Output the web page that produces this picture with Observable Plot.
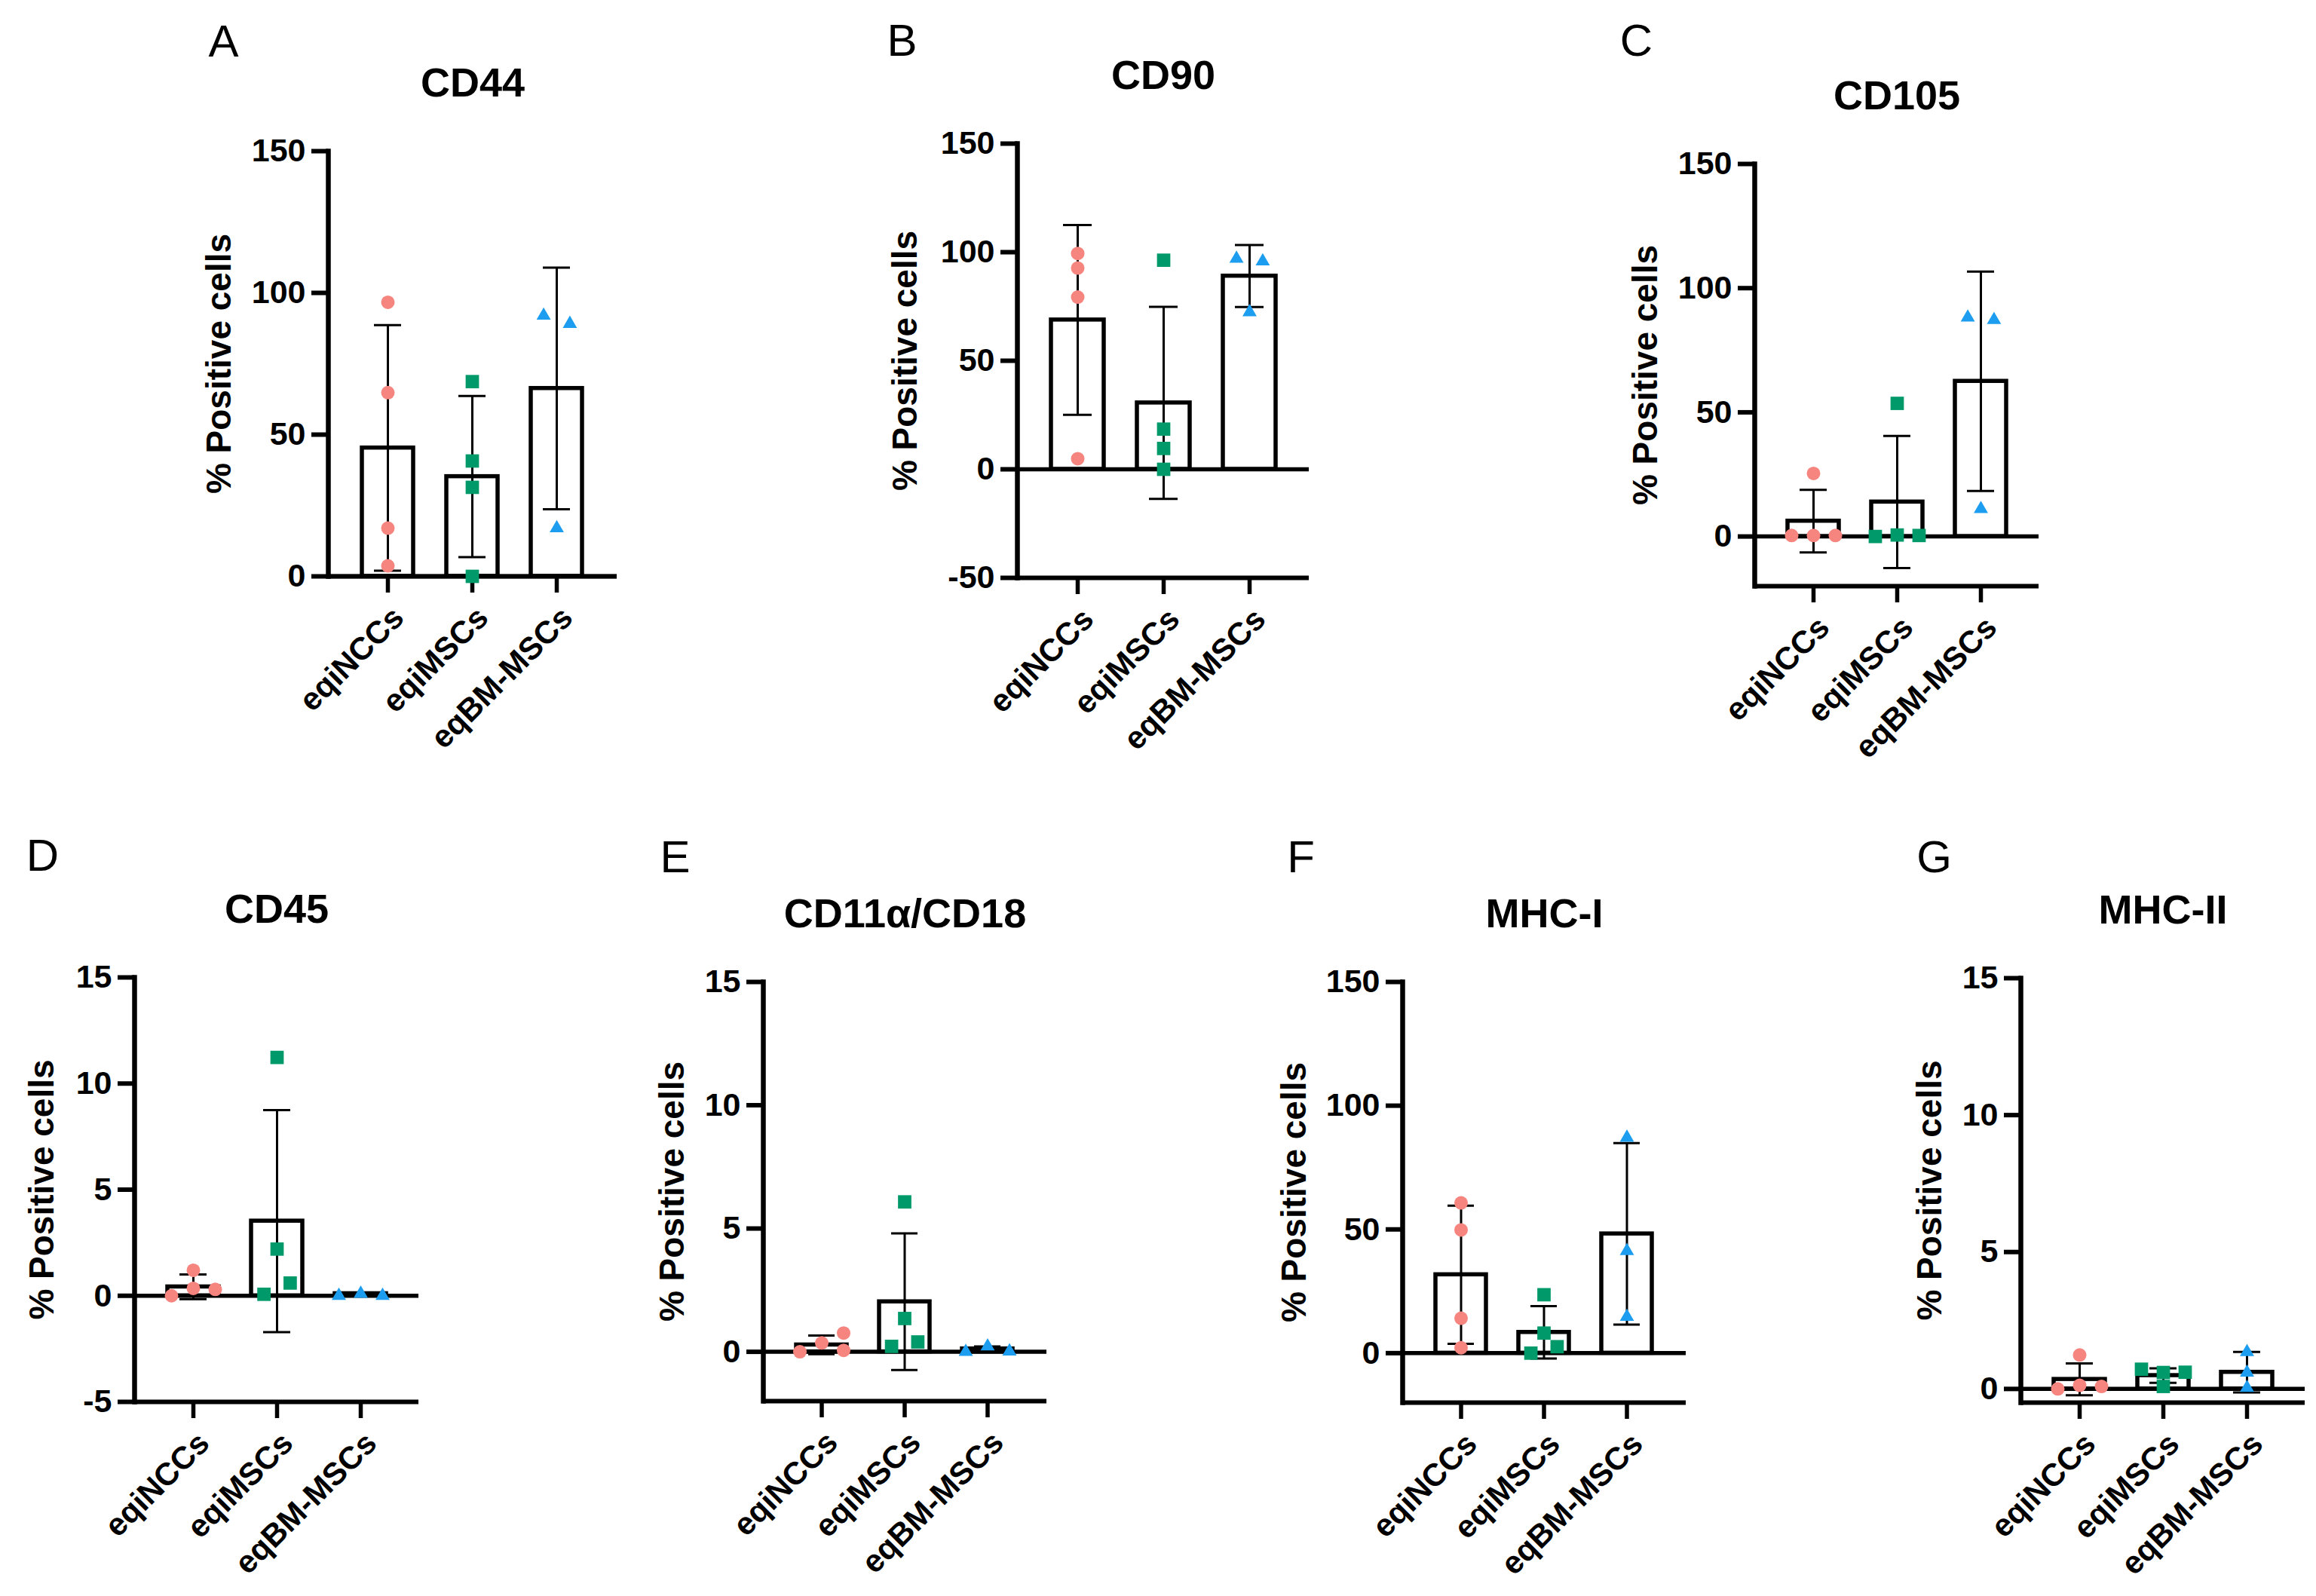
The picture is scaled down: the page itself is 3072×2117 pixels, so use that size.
<!DOCTYPE html>
<html><head><meta charset="utf-8">
<script src="https://cdn.jsdelivr.net/npm/d3@7"></script>
<script src="https://cdn.jsdelivr.net/npm/@observablehq/plot@0.6"></script>
<style>
html,body{margin:0;padding:0;background:#fff;}
#page{position:relative;width:3072px;height:2117px;overflow:hidden;background:#fff;}
#page svg{position:absolute;overflow:visible;}
</style></head><body><div id="page"></div>
<script>
// ---- data ----
const groups = ["eqiNCCs", "eqiMSCs", "eqBM-MSCs"];
const markers = ["CD44", "CD90", "CD105", "CD45", "CD11α/CD18", "MHC-I", "MHC-II"];
const letters = ["A", "B", "C", "D", "E", "F", "G"];
const yTicks = [[0,50,100,150],[-50,0,50,100,150],[0,50,100,150],[-5,0,5,10,15],[0,5,10,15],[0,50,100,150],[0,5,10,15]];
const yMin = [0, -50, -20, -5, -2, -20, -0.5];
const yMax = [150, 150, 150, 15, 15, 150, 15];
const means = [[45.3,35.2,66.3],[68.8,30.6,89.0],[6.2,13.9,62.5],[0.42,3.52,0.1],[0.28,2.03,0.12],[31.7,8.4,48.2],[0.35,0.49,0.61]];
const sds   = [[43.3,28.4,42.6],[43.7,44.2,14.3],[12.6,26.6,44.2],[0.58,5.23,0.05],[0.38,2.77,0.1],[27.9,10.6,36.7],[0.58,0.265,0.74]];
// individual points: [group index, % positive, cluster slot]
const cd44  = [[0,96.7,0],[0,64.8,0],[0,17.0,0],[0,3.7,0],[1,68.7,0],[1,40.7,0],[1,31.4,0],[1,0.0,0],[2,92.0,-0.6],[2,89.1,0.6],[2,17.0,0]];
const cd90  = [[0,99.4,0],[0,92.7,0],[0,79.3,0],[0,4.9,0],[1,96.3,0],[1,18.5,0],[1,9.6,0],[1,0.0,0],[2,97.0,-0.6],[2,95.8,0.6],[2,72.4,0]];
const cd105 = [[0,25.4,0],[0,0.4,-1],[0,0.4,0],[0,0.4,1],[1,53.6,0],[1,0.0,-1],[1,0.6,0],[1,0.4,1],[2,88.2,-0.6],[2,87.2,0.6],[2,11.1,0]];
const cd45  = [[0,1.2,0],[0,0.35,0],[0,0.0,-1],[0,0.3,1],[1,11.23,0],[1,2.2,0],[1,0.6,0.6],[1,0.07,-0.6],[2,0.0,-1],[2,0.1,0],[2,0.0,1]];
const cd11  = [[0,0.0,-1],[0,0.36,0],[0,0.76,1],[0,0.06,1],[1,6.08,0],[1,1.35,0],[1,0.22,-0.6],[1,0.4,0.6],[2,0.0,-1],[2,0.22,0],[2,0.02,1]];
const mhc1  = [[0,60.7,0],[0,49.8,0],[0,14.1,0],[0,2.2,0],[1,23.6,0],[1,8.1,0],[1,2.6,0.6],[1,0.0,-0.6],[2,87.1,0],[2,41.3,0],[2,14.7,0]];
const mhc2  = [[0,1.24,0],[0,0.13,0],[0,0.0,-1],[0,0.09,1],[1,0.72,-1],[1,0.6,0],[1,0.09,0],[1,0.61,1],[2,1.35,0],[2,0.6,0],[2,0.04,0]];
const panels = [cd44, cd90, cd105, cd45, cd11, mhc1, mhc2];

// ---- layout (page pixels): frame left, top, right, bottom ----
const frames = [[435,200,818,764],[1349,190,1736,766],[2327,217,2704,777],[178,1296,555,1859],[1012,1302,1388,1858],[1860,1302,2236,1860],[2680,1297,3057,1860]];
const letterPos = [[296,55],[1196,54],[2170,54],[56,1135],[895,1137],[1725,1137],[2565,1137]];
const ylabelOffset = [-144,-148,-144,-122,-120,-143,-120];
const M = {left: 200, right: 14, top: 200, bottom: 250};
const colors = ["#F7857F", "#00996A", "#1C9DEF"];
const symbols = ["circle", "square", "triangle"];
const radii = [9, 10, 7];
const SLOT_PX = 29;
const FONT = "'Liberation Sans', Arial, Helvetica, sans-serif";

const page = document.getElementById("page");

panels.forEach((pts, i) => {
  const [L, T, R, B] = frames[i];
  const stats = groups.map((g, j) => ({g, mean: means[i][j], sd: sds[i][j]}));
  const dots = pts.map(([gi, v, slot]) => ({g: groups[gi], gi, v, slot}));
  const dotMarks = [];
  for (let gi = 0; gi < groups.length; gi++) {
    const slots = [...new Set(dots.filter(d => d.gi === gi).map(d => d.slot))];
    for (const s of slots) {
      dotMarks.push(Plot.dot(dots.filter(d => d.gi === gi && d.slot === s), {
        x: "g", y: "v", symbol: symbols[gi], fill: colors[gi], r: radii[gi], dx: s * SLOT_PX
      }));
    }
  }
  const svg = Plot.plot({
    width: M.left + (R - L) + M.right,
    height: M.top + (B - T) + M.bottom,
    marginLeft: M.left, marginRight: M.right, marginTop: M.top, marginBottom: M.bottom,
    x: {type: "band", domain: groups, padding: 0.39, axis: null},
    y: {domain: [yMin[i], yMax[i]], axis: null},
    style: {fontFamily: FONT, color: "black", background: "transparent", overflow: "visible"},
    marks: [
      Plot.barY(stats, {x: "g", y: "mean", fill: "white", stroke: "black", strokeWidth: 5.5}),
      Plot.ruleX(stats, {x: "g", y1: d => d.mean - d.sd, y2: d => d.mean + d.sd, stroke: "black", strokeWidth: 3}),
      Plot.tickY(stats, {x: "g", y: d => d.mean + d.sd, stroke: "black", strokeWidth: 3, insetLeft: 16, insetRight: 16}),
      Plot.tickY(stats, {x: "g", y: d => d.mean - d.sd, stroke: "black", strokeWidth: 3, insetLeft: 16, insetRight: 16}),
      Plot.ruleY([0], {stroke: "black", strokeWidth: 5.5}),
      Plot.ruleY([yMin[i]], {stroke: "black", strokeWidth: 6}),
      Plot.frame({anchor: "left", stroke: "black", strokeWidth: 6.5}),
      Plot.axisY({ticks: yTicks[i], tickSize: 22, tickPadding: 8, fontSize: 43, fontWeight: "bold", strokeWidth: 6, label: null, tickFormat: d => String(d)}),
      Plot.axisX({tickSize: 22, strokeWidth: 5.5, tickFormat: () => "", label: null}),
      Plot.text(groups, {x: d => d, text: d => d, frameAnchor: "bottom", rotate: -45, textAnchor: "end", lineAnchor: "middle", dx: 14, dy: 48, fontSize: 42, fontWeight: "bold"}),
      ...dotMarks,
      Plot.text([markers[i]], {text: d => d, frameAnchor: "top", textAnchor: "middle", lineAnchor: "middle", dy: -90, fontSize: 54, fontWeight: "bold"}),
      Plot.text([letters[i]], {text: d => d, frameAnchor: "top-left", textAnchor: "middle", lineAnchor: "middle", dx: letterPos[i][0] - L, dy: letterPos[i][1] - T, fontSize: 60, fontWeight: "normal"}),
      Plot.text(["% Positive cells"], {text: d => d, frameAnchor: "left", textAnchor: "middle", lineAnchor: "middle", dx: ylabelOffset[i], rotate: -90, fontSize: 46, fontWeight: "bold"})
    ]
  });
  svg.style.left = (L - M.left) + "px";
  svg.style.top = (T - M.top) + "px";
  page.appendChild(svg);
});
</script></body></html>
